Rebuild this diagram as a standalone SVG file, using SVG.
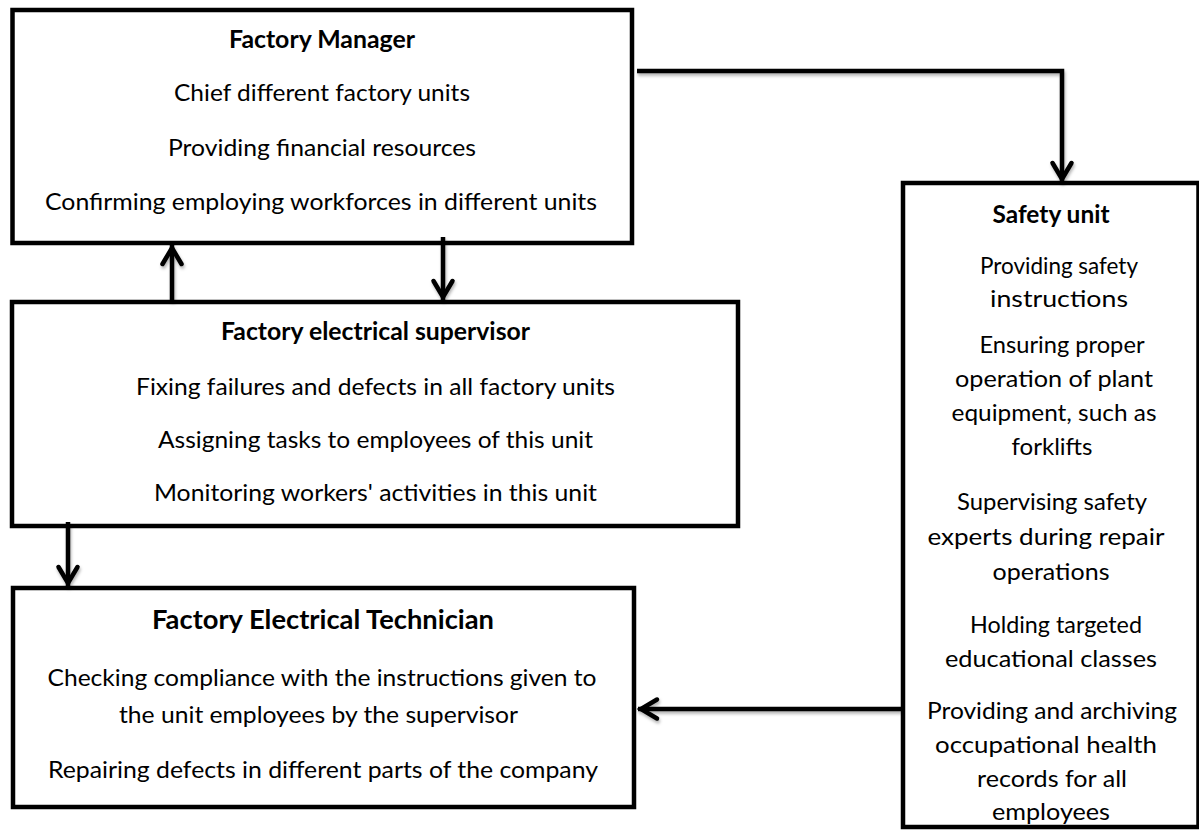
<svg xmlns="http://www.w3.org/2000/svg" width="1199" height="832" viewBox="0 0 1199 832">
  <style>
    .box { fill: #ffffff; stroke: #000000; stroke-width: 4.5; }
    .t { font-family: Lato, "Open Sans", "Liberation Sans", sans-serif; font-size: 24px; fill: #000000; text-anchor: middle; }
    .h { font-weight: bold; }
    .big { font-size: 26px; }
    .link { fill: none; stroke: #000000; stroke-width: 4.5; }
  </style>
  <defs>
    <marker id="arrow" viewBox="-20 -12 26 24" refX="3" refY="0" markerWidth="26" markerHeight="24" markerUnits="userSpaceOnUse" orient="auto" overflow="visible">
      <path d="M-16,-9.5 L0,0 L-16,9.5" fill="none" stroke="#000000" stroke-width="4.5" stroke-linecap="round"/>
    </marker>
    <filter id="soft" x="-5%" y="-20%" width="110%" height="140%">
      <feDropShadow dx="1" dy="2.5" stdDeviation="1.5" flood-color="#000000" flood-opacity="0.3"/>
    </filter>
  </defs>

  <rect width="1199" height="832" fill="#ffffff"/>

  <!-- Factory Manager -->
  <g id="factory-manager">
    <rect class="box" x="12.5" y="10" width="619.5" height="233"/>
    <text class="t h" x="322" y="48" textLength="186" lengthAdjust="spacingAndGlyphs">Factory Manager</text>
    <text class="t" x="322" y="101" textLength="296" lengthAdjust="spacingAndGlyphs">Chief different factory units</text>
    <text class="t" x="322" y="156" textLength="308" lengthAdjust="spacingAndGlyphs">Providing financial resources</text>
    <text class="t" x="321" y="210" textLength="552" lengthAdjust="spacingAndGlyphs">Confirming employing workforces in different units</text>
  </g>

  <!-- Factory electrical supervisor -->
  <g id="electrical-supervisor">
    <rect class="box" x="12" y="302" width="726" height="224"/>
    <text class="t h" x="375.5" y="340" textLength="309" lengthAdjust="spacingAndGlyphs">Factory electrical supervisor</text>
    <text class="t" x="375.5" y="395" textLength="479" lengthAdjust="spacingAndGlyphs">Fixing failures and defects in all factory units</text>
    <text class="t" x="375.5" y="448" textLength="435" lengthAdjust="spacingAndGlyphs">Assigning tasks to employees of this unit</text>
    <text class="t" x="375.5" y="501" textLength="443" lengthAdjust="spacingAndGlyphs">Monitoring workers' activities in this unit</text>
  </g>

  <!-- Factory Electrical Technician -->
  <g id="electrical-technician">
    <rect class="box" x="13" y="588" width="621" height="219"/>
    <text class="t h big" x="323" y="629" textLength="342" lengthAdjust="spacingAndGlyphs">Factory Electrical Technician</text>
    <text class="t" x="322" y="686" textLength="549" lengthAdjust="spacingAndGlyphs">Checking compliance with the instructions given to</text>
    <text class="t" x="318.5" y="723" textLength="399" lengthAdjust="spacingAndGlyphs">the unit employees by the supervisor</text>
    <text class="t" x="323" y="778" textLength="550" lengthAdjust="spacingAndGlyphs">Repairing defects in different parts of the company</text>
  </g>

  <!-- Safety unit -->
  <g id="safety-unit">
    <rect class="box" x="903" y="183" width="295.5" height="644"/>
    <text class="t h" x="1051" y="223" textLength="117" lengthAdjust="spacingAndGlyphs">Safety unit</text>
    <text class="t" x="1059" y="274" textLength="158" lengthAdjust="spacingAndGlyphs">Providing safety</text>
    <text class="t" x="1059" y="307" textLength="138" lengthAdjust="spacingAndGlyphs">instructions</text>
    <text class="t" x="1062" y="353" textLength="165" lengthAdjust="spacingAndGlyphs">Ensuring proper</text>
    <text class="t" x="1054" y="387" textLength="198" lengthAdjust="spacingAndGlyphs">operation of plant</text>
    <text class="t" x="1054" y="421" textLength="205" lengthAdjust="spacingAndGlyphs">equipment, such as</text>
    <text class="t" x="1052" y="455" textLength="81" lengthAdjust="spacingAndGlyphs">forklifts</text>
    <text class="t" x="1052" y="510" textLength="190" lengthAdjust="spacingAndGlyphs">Supervising safety</text>
    <text class="t" x="1046" y="545" textLength="237" lengthAdjust="spacingAndGlyphs">experts during repair</text>
    <text class="t" x="1051" y="580" textLength="117" lengthAdjust="spacingAndGlyphs">operations</text>
    <text class="t" x="1056" y="633" textLength="172" lengthAdjust="spacingAndGlyphs">Holding targeted</text>
    <text class="t" x="1051" y="667" textLength="212" lengthAdjust="spacingAndGlyphs">educational classes</text>
    <text class="t" x="1052" y="719" textLength="250" lengthAdjust="spacingAndGlyphs">Providing and archiving</text>
    <text class="t" x="1046" y="753" textLength="222" lengthAdjust="spacingAndGlyphs">occupational health</text>
    <text class="t" x="1052" y="787" textLength="150" lengthAdjust="spacingAndGlyphs">records for all</text>
    <text class="t" x="1051" y="820" textLength="118" lengthAdjust="spacingAndGlyphs">employees</text>
  </g>

  <!-- Connectors -->
  <g id="connectors" filter="url(#soft)">
    <path class="link" d="M637,71 H1062 V182" marker-end="url(#arrow)"/>
    <path class="link" d="M172,301 V245" marker-end="url(#arrow)"/>
    <path class="link" d="M443,237 V300" marker-end="url(#arrow)"/>
    <path class="link" d="M68,522 V586" marker-end="url(#arrow)"/>
    <path class="link" d="M901,709 H638" marker-end="url(#arrow)"/>
  </g>
</svg>
